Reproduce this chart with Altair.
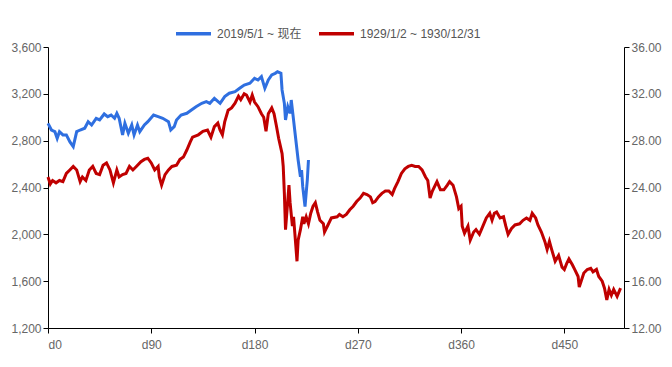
import altair as alt
import pandas as pd

blue_name = "2019/5/1 ~ 现在"
red_name = "1929/1/2 ~ 1930/12/31"

blue_days = [0, 3, 6, 8, 10, 13, 16, 19, 22, 25, 28, 32, 35, 38, 42, 45, 49, 52, 55, 58,
             60, 62, 65, 67, 70, 73, 75, 78, 80, 84, 87, 92, 96, 100, 105, 107, 110, 112,
             116, 121, 125, 129, 134, 138, 141, 145, 150, 154, 158, 163, 167, 171, 176,
             180, 183, 186, 189, 192, 195, 198, 200, 203, 204, 206, 207, 209, 211, 212,
             214, 215, 217, 218, 220, 221, 222, 224, 225, 226, 227]
blue_vals = [2948, 2891, 2877, 2820, 2877, 2849, 2849, 2791, 2749, 2877, 2891, 2906, 2962,
             2934, 2991, 2977, 3028, 3005, 3019, 2991, 3034, 2991, 2849, 2948, 2863, 2934,
             2849, 2934, 2877, 2934, 2962, 3019, 3005, 2991, 2962, 2891, 2920, 2977, 3019,
             3034, 3062, 3090, 3119, 3133, 3119, 3162, 3119, 3176, 3205, 3218, 3247, 3275,
             3290, 3333, 3318, 3347, 3247, 3318, 3361, 3375, 3389, 3375, 3233, 3119, 2977,
             3090, 3034, 3147, 2977, 2891, 2720, 2635, 2492, 2549, 2407, 2236, 2351, 2464,
             2635]

red_days = [0, 2, 4, 7, 10, 13, 16, 19, 22, 25, 28, 30, 33, 36, 39, 42, 45, 48, 51, 54,
            57, 60, 62, 65, 68, 71, 74, 77, 81, 84, 87, 90, 93, 96, 97, 99, 102, 105, 108,
            112, 115, 118, 121, 124, 126, 131, 135, 139, 142, 145, 148, 150, 152, 154, 157,
            160, 163, 166, 168, 171, 173, 176, 178, 180, 183, 186, 188, 190, 192, 195, 197,
            199, 201, 204, 205, 206, 207, 209, 210, 211, 213, 214, 216, 217, 218, 220, 222,
            223, 225, 227, 229, 231, 233, 235, 237, 240, 241, 244, 247, 252, 254, 257, 260,
            263, 266, 269, 272, 275, 278, 281, 283, 285, 288, 291, 294, 297, 300, 302, 305,
            308, 311, 314, 317, 320, 323, 326, 329, 331, 333, 335, 339, 342, 345, 348, 350,
            353, 356, 358, 360, 361, 363, 366, 368, 371, 373, 376, 379, 382, 385, 387, 389,
            391, 394, 397, 399, 401, 404, 407, 411, 414, 417, 420, 422, 425, 427, 430, 433,
            435, 437, 439, 442, 445, 448, 450, 452, 454, 457, 459, 462, 463, 465, 467, 470,
            473, 475, 478, 480, 483, 485, 487, 489, 491, 493, 496, 499]
red_vals = [24.9, 24.3, 24.6, 24.4, 24.6, 24.5, 25.2, 25.5, 25.8, 25.5, 24.5, 24.9, 24.6,
            25.5, 25.8, 25.2, 25.1, 25.9, 26.1, 25.5, 24.4, 25.5, 24.9, 25.1, 25.2, 25.8,
            25.5, 25.8, 26.2, 26.4, 26.5, 26.1, 25.5, 25.8, 24.9, 24.2, 25.1, 25.5, 25.8,
            25.9, 26.4, 26.6, 27.2, 27.9, 28.3, 28.5, 28.8, 28.9, 28.3, 29.2, 29.5, 28.9,
            28.5, 29.6, 30.6, 30.8, 31.2, 31.8, 31.5, 32.0, 31.9, 31.3, 31.9, 31.3, 30.9,
            30.3, 30.0, 28.8, 30.3, 30.8, 30.3, 29.3, 28.2, 26.9, 25.8, 23.5, 20.4, 22.9,
            24.2, 22.7, 20.7, 21.5, 19.0, 17.7, 19.5, 20.4, 21.5, 20.9, 21.5, 20.9, 21.8,
            22.4, 22.7, 21.9, 21.2, 20.9, 20.2, 20.8, 21.4, 21.5, 21.7, 21.5, 21.7, 22.1,
            22.4, 22.8, 23.1, 23.5, 23.4, 23.2, 22.7, 22.8, 23.2, 23.5, 23.7, 23.7, 23.4,
            23.9, 24.5, 25.2, 25.6, 25.8, 25.9, 25.8, 25.8, 25.5, 24.9, 24.6, 23.1, 23.7,
            24.5, 23.8, 23.8, 24.2, 24.5, 24.2, 23.2, 22.2, 22.4, 20.7, 20.1, 20.7, 19.5,
            20.2, 20.4, 20.0, 20.7, 21.4, 21.8, 21.2, 21.8, 21.9, 21.4, 21.5, 20.7, 20.0,
            20.5, 20.8, 20.9, 21.2, 21.4, 21.2, 21.8, 21.4, 20.8, 20.2, 19.4, 18.7, 19.4,
            18.7, 17.7, 18.2, 17.2, 17.0, 17.5, 17.9, 17.4, 17.0, 16.4, 15.5, 16.1, 16.7,
            17.0, 17.1, 16.8, 17.0, 16.4, 16.0, 15.4, 14.4, 15.3, 14.8, 15.3, 14.7, 15.4]

x_ticks = [0, 90, 180, 270, 360, 450]
left_ticks = [1200, 1600, 2000, 2400, 2800, 3200, 3600]
right_ticks = [12, 16, 20, 24, 28, 32, 36]

blue_color = "#2f6fe0"
red_color = "#c00000"

df = pd.concat([
    pd.DataFrame({"day": blue_days, "v": blue_vals, "series": blue_name}),
    pd.DataFrame({"day": red_days, "v": red_vals, "series": red_name}),
])

FONT = "Liberation Sans, Noto Sans CJK SC, sans-serif"

x_enc = alt.X("day:Q", scale=alt.Scale(domain=[0, 502], nice=False, zero=False),
              axis=alt.Axis(values=x_ticks, labelExpr="'d' + datum.value", title=None,
                            grid=False, labelPadding=6))
color_enc = alt.Color("series:N",
                      scale=alt.Scale(domain=[blue_name, red_name], range=[blue_color, red_color]),
                      legend=alt.Legend(orient="none", legendX=126, legendY=-33,
                                        direction="horizontal", title=None,
                                        symbolType="stroke", symbolSize=1225,
                                        symbolStrokeWidth=3.5, columnPadding=10,
                                        labelOffset=4, labelFontSize=12, labelColor="#555",
                                        labelFont=FONT))

base = alt.Chart(df)

red = base.transform_filter(alt.datum.series == red_name).mark_line(strokeWidth=3).encode(
    x=x_enc,
    y=alt.Y("v:Q", scale=alt.Scale(domain=[12, 36], nice=False, zero=False),
            axis=alt.Axis(orient="right", values=right_ticks, format=".2f", title=None,
                          grid=False)),
    color=color_enc,
)

blue = base.transform_filter(alt.datum.series == blue_name).mark_line(strokeWidth=3).encode(
    x=x_enc,
    y=alt.Y("v:Q", scale=alt.Scale(domain=[1200, 3600], nice=False, zero=False),
            axis=alt.Axis(orient="left", values=left_ticks, format=",.0f", title=None,
                          grid=False)),
    color=color_enc,
)

chart = alt.layer(blue, red).resolve_scale(y="independent").properties(
    width=576, height=281,
    autosize=alt.AutoSizeParams(type="none"),
    padding={"left": 40, "top": 39, "right": 40, "bottom": 30},
).configure_view(stroke=None).configure_axis(
    domainColor="#000", tickColor="#000", labelColor="#666", labelFont=FONT,
    labelFontSize=12, tickSize=5,
)

chart.save("out.html", embed_options={"renderer": "svg", "actions": False})
